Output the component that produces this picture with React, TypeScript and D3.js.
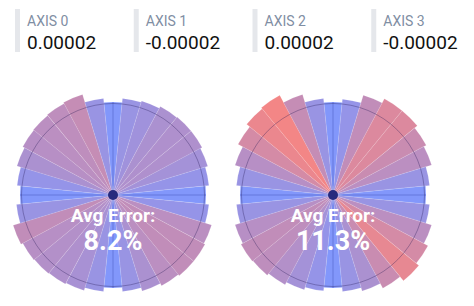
import React from "react";
import * as d3 from "d3";

// ---- data ----
const axisLabels = ["AXIS 0", "AXIS 1", "AXIS 2", "AXIS 3"];
const axisValues = ["0.00002", "-0.00002", "0.00002", "-0.00002"];
const avgLabels = ["8.2%", "11.3%"];
// error (%) per direction, 32 directions clockwise from top
const errorsA = [0, 6, 8, 11, 12, 12, 9, 5, 0, 5, 15, 17, 17, 15, 11, 6, 0, 6, 10, 12, 13, 14, 17, 6, 0, 5, 11, 14, 15, 16, 18, 6];
const errorsB = [0, 5, 17, 24, 24, 19, 15, 6, 0, 6, 15, 22, 27, 19, 11, 6, 0, 5, 9, 13, 16, 17, 14, 6, 0, 6, 14, 22, 28, 30, 18, 6];
const chartErrors = [errorsA, errorsB];

const W = 474;
const H = 306;

const rScale = d3.scaleLinear().domain([0, 30]).range([93, 113]);
const cScale = d3.scaleLinear<string>().domain([0, 30]).range(["#7b91fb", "#f28080"]).interpolate(d3.interpolateRgb).clamp(true);

function Polar({ errors, cx, cy, label }: { errors: number[]; cx: number; cy: number; label: string }) {
  const n = errors.length;
  const step = (2 * Math.PI) / n;
  const arc = d3.arc<any>();
  return (
    <g transform={`translate(${cx},${cy})`}>
      {errors.map((e, i) => (
        <path
          key={i}
          d={arc({ innerRadius: 0, outerRadius: rScale(e), startAngle: (i - 0.5) * step, endAngle: (i + 0.5) * step }) || ""}
          fill={cScale(e)}
          fillOpacity={0.95}
          stroke="rgba(255,255,255,0.18)"
          strokeWidth={0.6}
        />
      ))}
      <circle r={91.5} fill="none" stroke="rgba(40,30,90,0.35)" strokeWidth={1} />
      <line x1={0} x2={0} y1={-93} y2={93} stroke="rgba(50,60,170,0.35)" strokeWidth={1} />
      <line x1={-93} x2={93} y1={0} y2={0} stroke="rgba(50,60,170,0.35)" strokeWidth={1} />
      <circle r={5} fill="#272a7e" />
      <text x={0} y={27} textAnchor="middle" fill="#fff" fontFamily="Roboto" fontWeight={700} fontSize={19}>
        Avg Error:
      </text>
      <text x={0} y={55} textAnchor="middle" fill="#fff" fontFamily="Roboto" fontWeight={700} fontSize={27}>
        {label}
      </text>
    </g>
  );
}

export default function App() {
  const cardX = d3.scaleBand<number>().domain([0, 1, 2, 3]).range([15, 490]);
  return (
    <svg width={W} height={H} style={{ position: "fixed", left: 0, top: 0, background: "#fff" }}>
      {axisLabels.map((l, i) => {
        const x = cardX(i) as number;
        return (
          <g key={i}>
            <rect x={x} y={9} width={5} height={43} fill="#e5e7eb" />
            <text x={x + 12} y={26} fontFamily="Roboto" fontSize={14} fill="#7f8ea3">
              {l}
            </text>
            <text x={x + 12} y={49} fontFamily="Roboto" fontSize={19} fill="#111">
              {axisValues[i]}
            </text>
          </g>
        );
      })}
      {chartErrors.map((errs, k) => (
        <Polar key={k} errors={errs} cx={113 + k * 220} cy={195} label={avgLabels[k]} />
      ))}
    </svg>
  );
}
